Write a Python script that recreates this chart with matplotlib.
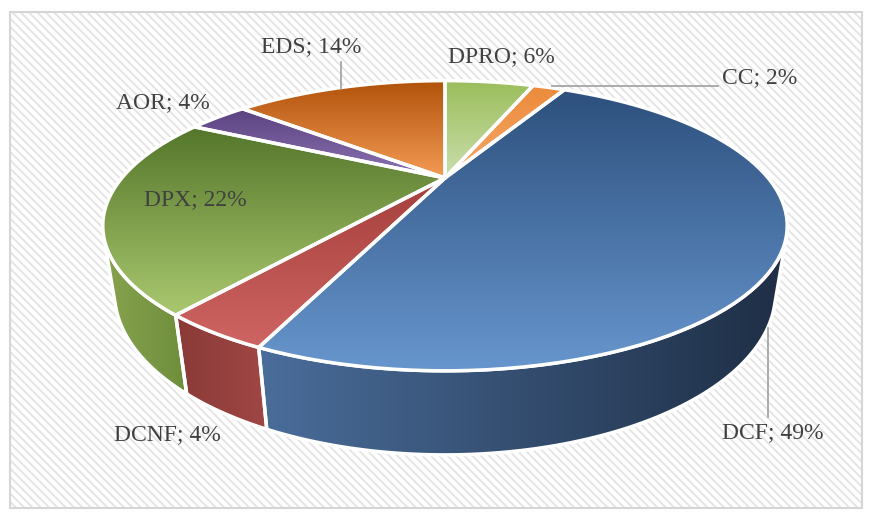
import numpy as np
import matplotlib
matplotlib.use("Agg")
import matplotlib.pyplot as plt
from matplotlib.patches import Polygon, Rectangle
from matplotlib.colors import LinearSegmentedColormap

# slices, clockwise from 12 o'clock
labels = ["DPRO", "CC", "DCF", "DCNF", "DPX", "AOR", "EDS"]
values = [5.8, 2.1, 48.7, 4.0, 21.9, 3.75, 13.75]

# (top colour, bottom colour) of the top face gradients
top_colors = [("#9bbd5a", "#cadfad"), ("#ec8a3a", "#f6aa6c"), ("#2d507d", "#6796ce"),
              ("#a43f3c", "#cf6562"), ("#54762a", "#aac86f"), ("#5a4180", "#8d73b2"),
              ("#b1520a", "#f49b55")]
# (left colour, right colour) of the side walls
side_colors = [("#7f9c49", "#6f8c3c"), ("#c7731f", "#b5661a"), ("#4a6d9a", "#1e2e45"),
               ("#8a3a38", "#a04745"), ("#87a34f", "#6e8d3b"), ("#5b4280", "#4f3a72"),
               ("#c7731f", "#b5661a")]

# label positions (pixels) and leader line info
label_pos = {"DPRO": (501, 57), "CC": (760, 78), "DCF": (773, 433), "DCNF": (167, 435),
             "DPX": (195, 200), "AOR": (163, 103), "EDS": (311, 47)}

# simple perspective camera for the pie
elev = np.radians(23.6)
dist = 2.785
focal = 900
depth = 0.22
cx, cy = 445, 178


def proj(x, y, z):
    s, c = np.sin(elev), np.cos(elev)
    ry = y + dist * c
    rz = z - dist * s
    w = ry * c - rz * s
    v = ry * s + rz * c
    return cx + focal * x / w, cy - focal * v / w


def rim(t0, t1, z, n=80):
    t = np.radians(np.linspace(t0, t1, n))
    X, Y = proj(np.sin(t), np.cos(t), z)
    return np.column_stack([X, Y])


def grad_fill(ax, pts, c0, c1, vertical, z):
    poly = Polygon(pts, closed=True, facecolor="none", edgecolor="white",
                   lw=2.5, zorder=z + 0.5, joinstyle="round")
    ax.add_patch(poly)
    x0, y0 = pts.min(0)
    x1, y1 = pts.max(0)
    cmap = LinearSegmentedColormap.from_list("g", [c0, c1])
    g = np.linspace(0, 1, 256)
    arr = g[:, None] if vertical else g[None, :]
    im = ax.imshow(arr, cmap=cmap, extent=(x0, x1, y1, y0), origin="upper",
                   aspect="auto", interpolation="bilinear", zorder=z)
    im.set_clip_path(poly)


plt.rcParams["hatch.linewidth"] = 1.3
fig = plt.figure(figsize=(8.71, 5.22), dpi=100)
ax = fig.add_axes([0, 0, 1, 1])
ax.axis("off")

# hatched chart area
ax.add_patch(Rectangle((10, 12), 852, 496, facecolor="white", edgecolor="#e4e4e4",
                       hatch="\\\\\\\\", lw=0, zorder=0))
ax.add_patch(Rectangle((10, 12), 852, 496, facecolor="none", edgecolor="#d6d6d6",
                       lw=1.5, zorder=0.1))

bounds = np.concatenate([[0], np.cumsum(values)]) / sum(values) * 360
vis0, vis1 = 113, 247  # front-facing part of the wall

# side walls
for i in range(len(values)):
    a0, a1 = max(bounds[i], vis0), min(bounds[i + 1], vis1)
    if a1 <= a0:
        continue
    top = rim(a0, a1, 0)
    bot = rim(a0, a1, -depth)[::-1]
    grad_fill(ax, np.vstack([top, bot]), *side_colors[i], vertical=False, z=1)

# top faces
for i in range(len(values)):
    pts = np.vstack([[proj(0, 0, 0)], rim(bounds[i], bounds[i + 1], 0)])
    grad_fill(ax, pts, *top_colors[i], vertical=True, z=2)

# labels
txt = dict(fontfamily="Liberation Serif", fontsize=17, color="#404040",
           ha="center", va="center", zorder=5)
for i, lab in enumerate(labels):
    x, y = label_pos[lab]
    ax.text(x, y, f"{lab}; {round(values[i])}%", **txt)

line = dict(color="#a6a6a6", lw=1.3, zorder=4)
mid = (bounds[:-1] + bounds[1:]) / 2
# EDS leader
ex, ey = proj(np.sin(np.radians(mid[6])), np.cos(np.radians(mid[6])), 0)
ax.plot([ex, ex], [ey, 62], **line)
# CC leader
ccx, ccy = proj(np.sin(np.radians(mid[1])), np.cos(np.radians(mid[1])), 0)
ax.plot([ccx + 3, 718], [ccy - 1, ccy - 1], **line)
# DCF leader, from the bottom edge of the wall
dx, dy = proj(np.sin(np.radians(120)), np.cos(np.radians(120)), -depth)
ax.plot([dx, dx], [dy, 417], **line)

ax.set_xlim(0, 871)
ax.set_ylim(522, 0)
fig.savefig("out.png", dpi=100)
